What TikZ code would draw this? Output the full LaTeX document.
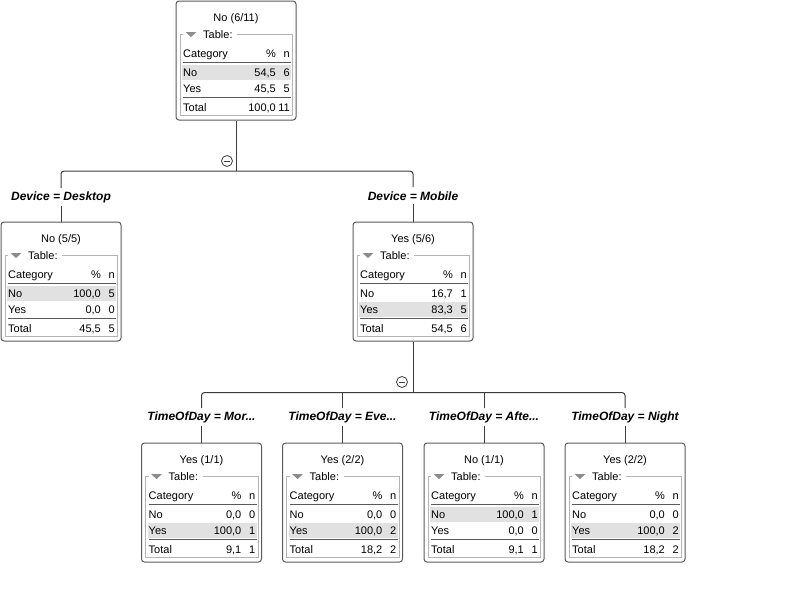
\documentclass[tikz,border=0pt]{standalone}
\usepackage{fontspec}
\setmainfont{Liberation Sans}
\definecolor{boxline}{HTML}{5A5A5A}
\definecolor{frameline}{HTML}{B4B4B4}
\definecolor{rowhl}{HTML}{E1E1E1}
\definecolor{edgeline}{HTML}{3C3C3C}
\definecolor{tri}{HTML}{8C8C8C}
\newcommand{\boxfont}{\fontsize{11}{13}\selectfont}
\begin{document}
\begin{tikzpicture}[x=1pt, y=-1pt,
  leafbox/.style={draw=boxline, line width=1pt, rounded corners=3pt, minimum width=120pt, minimum height=119pt, inner sep=0pt},
  txt/.style={inner sep=0pt, font=\boxfont},
  cond/.style={inner sep=0pt, minimum height=17pt, anchor=base, font=\fontsize{12}{14}\selectfont\bfseries\itshape},
  edge/.style={draw=edgeline, line width=1pt},
  toggle/.style={circle, draw=edgeline, line width=0.8pt, minimum size=11pt, inner sep=0pt}]
  \useasboundingbox (0,0) rectangle (800,600);
  \foreach \nm/\x/\y/\ttl/\np/\nn/\yp/\yn/\tp/\tn/\hl in {
      root/176/1/{No (6/11)}/{54,5}/6/{45,5}/5/{100,0}/11/0,
      desk/1/222/{No (5/5)}/{100,0}/5/{0,0}/0/{45,5}/5/0,
      mob/353/222/{Yes (5/6)}/{16,7}/1/{83,3}/5/{54,5}/6/1,
      mor/141.5/443/{Yes (1/1)}/{0,0}/0/{100,0}/1/{9,1}/1/1,
      eve/282.5/443/{Yes (2/2)}/{0,0}/0/{100,0}/2/{18,2}/2/1,
      aft/424/443/{No (1/1)}/{100,0}/1/{0,0}/0/{9,1}/1/0,
      night/565/443/{Yes (2/2)}/{0,0}/0/{100,0}/2/{18,2}/2/1}
  {
    \begin{scope}[shift={(\x,\y)}]
      \node[leafbox] (\nm) at (60,59.5) {};
      \fill[rowhl] (6,63.5+16*\hl) rectangle (115,78.5+16*\hl);
      \draw[frameline] (7,33) -- (4,33) -- (4,114) -- (116.5,114) -- (116.5,33) -- (61,33);
      \fill[tri] (9.5,31) -- (20.5,31) -- (15,36) -- cycle;
      \draw[boxline] (7,61.5) -- (115,61.5);
      \draw[boxline] (7,96.5) -- (115,96.5);
      \node[txt, anchor=base] at (60,20) {\ttl};
      \node[txt, anchor=base west] at (27,37.5) {Table:};
      \node[txt, anchor=base west] at (7,56) {Category};
      \node[txt, anchor=base east] at (100,56) {\%};
      \node[txt, anchor=base east] at (114,56) {n};
      \node[txt, anchor=base west] at (7,75.5) {No};
      \node[txt, anchor=base east] at (100,75.5) {\np};
      \node[txt, anchor=base east] at (114,75.5) {\nn};
      \node[txt, anchor=base west] at (7,91.5) {Yes};
      \node[txt, anchor=base east] at (100,91.5) {\yp};
      \node[txt, anchor=base east] at (114,91.5) {\yn};
      \node[txt, anchor=base west] at (7,110.5) {Total};
      \node[txt, anchor=base east] at (100,110.5) {\tp};
      \node[txt, anchor=base east] at (114,110.5) {\tn};
    \end{scope}
  }
  \coordinate (j1) at (236,171);
  \coordinate (j2) at (413,392.5);
  \node[cond] (cdesk) at (61,200) {Device = Desktop};
  \node[cond] (cmob) at (413,200) {Device = Mobile};
  \node[cond] (cmor) at (201.5,420) {TimeOfDay = Mor...};
  \node[cond] (ceve) at (342.5,420) {TimeOfDay = Eve...};
  \node[cond] (caft) at (484,420) {TimeOfDay = Afte...};
  \node[cond] (cnight) at (625,420) {TimeOfDay = Night};
  \draw[edge] (root.south) -- (j1);
  \draw[edge, rounded corners=3pt] (cdesk.north) |- (j1) -| (cmob.north);
  \draw[edge] (cdesk.south) -- (desk.north);
  \draw[edge] (cmob.south) -- (mob.north);
  \draw[edge] (mob.south) -- (j2);
  \draw[edge, rounded corners=3pt] (cmor.north) |- (j2) -| (cnight.north);
  \draw[edge] (ceve.north) -- (ceve.north |- j2);
  \draw[edge] (caft.north) -- (caft.north |- j2);
  \foreach \c in {mor, eve, aft, night}
    \draw[edge] (c\c.south) -- (\c.north);
  \node[toggle] (tg1) at (227,161) {};
  \draw[edgeline, line width=0.8pt] ([xshift=-3pt]tg1.center) -- ([xshift=3pt]tg1.center);
  \node[toggle] (tg2) at (402,382) {};
  \draw[edgeline, line width=0.8pt] ([xshift=-3pt]tg2.center) -- ([xshift=3pt]tg2.center);
\end{tikzpicture}
\end{document}
